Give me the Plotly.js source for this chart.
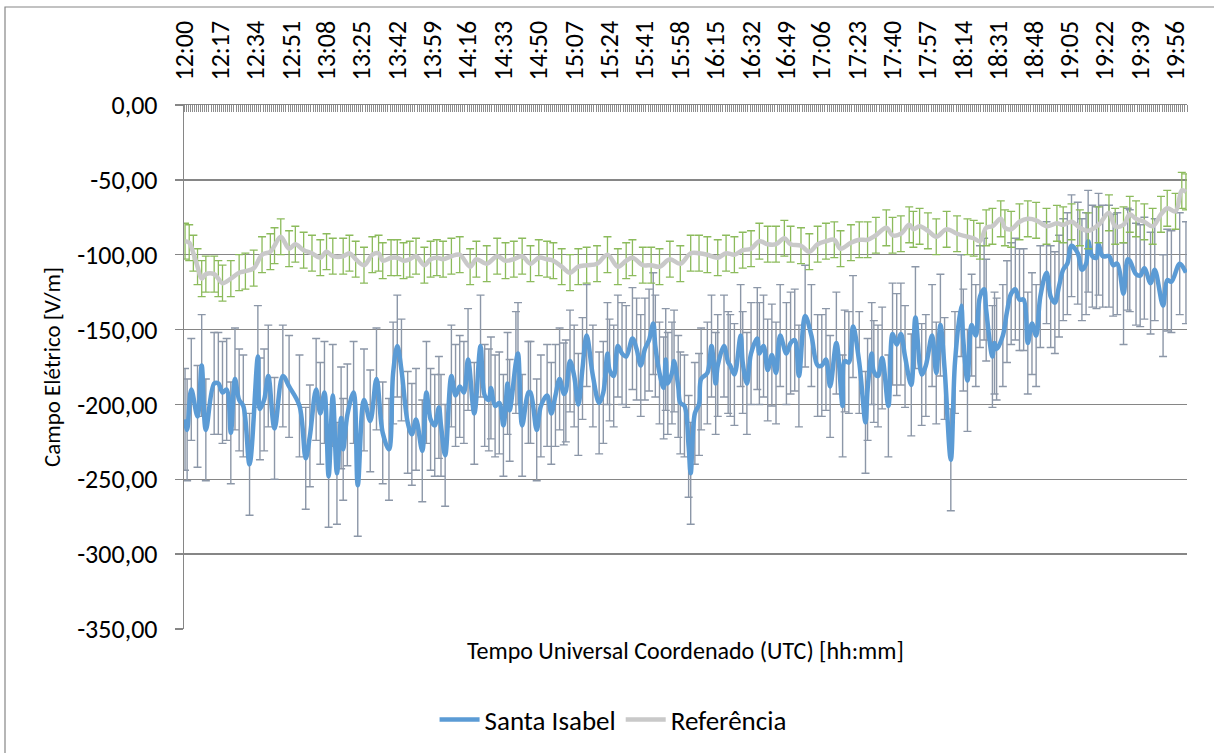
<!DOCTYPE html>
<html>
<head>
<meta charset="utf-8">
<script src="https://cdn.plot.ly/plotly-3.0.1.min.js"></script>
<style>
html, body { margin: 0; padding: 0; background: #ffffff; }
#chart { width: 1214px; height: 753px; }
</style>
</head>
<body>
<div id="chart"></div>
<script>
// ---- X axis tick labels (minutes after 12:00 and their clock labels) ----
const TICK_MIN = [0, 17, 34, 51, 68, 85, 102, 119, 136, 153, 170, 187, 204, 221, 238, 255, 272, 289, 306, 323, 340, 357, 374, 391, 408, 425, 442, 459, 476];
const TICK_LABELS = ['12:00', '12:17', '12:34', '12:51', '13:08', '13:25', '13:42', '13:59', '14:16', '14:33', '14:50', '15:07', '15:24', '15:41', '15:58', '16:15', '16:32', '16:49', '17:06', '17:23', '17:40', '17:57', '18:14', '18:31', '18:48', '19:05', '19:22', '19:39', '19:56'];

// ---- Y axis ticks ----
const Y_TICKS = [0, -50, -100, -150, -200, -250, -300, -350];
const Y_LABELS = ['0,00', '-50,00', '-100,00', '-150,00', '-200,00', '-250,00', '-300,00', '-350,00'];

// ---- Santa Isabel (minutes after 12:00, V/m) ----
const SI_MIN = [
  0, 1, 3, 6, 8, 10, 14, 16, 18, 20,
  22, 24, 26, 28, 31, 35, 36, 38, 40, 43,
  47, 50, 55, 58, 60, 63, 65, 67, 69, 71,
  73, 75, 76, 78, 81, 83, 86, 89, 92, 95,
  98, 100, 102, 104, 107, 109, 111, 114, 116, 118,
  120, 122, 123, 125, 128, 130, 132, 134, 136, 139,
  142, 144, 146, 147, 149, 151, 153, 155, 156, 159,
  160, 162, 165, 166, 169, 171, 174, 176, 178, 180,
  182, 183, 185, 187, 189, 191, 193, 196, 199, 201,
  203, 204, 206, 208, 210, 212, 215, 217, 219, 221,
  223, 225, 226, 228, 230, 231, 232, 234, 235, 237,
  238, 240, 242, 243, 245, 247, 248, 251, 253, 255,
  256, 259, 261, 262, 264, 267, 268, 270, 272, 275,
  276, 278, 280, 282, 284, 286, 289, 291, 293, 295,
  298, 301, 304, 306, 308, 310, 313, 316, 317, 319,
  321, 324, 327, 328, 330, 331, 333, 335, 338, 340,
  342, 344, 346, 349, 351, 354, 356, 359, 361, 363,
  365, 368, 370, 373, 374, 376, 378, 380, 382, 384,
  385, 388, 389, 390, 393, 395, 397, 399, 401, 403,
  405, 407, 409, 411, 414, 416, 418, 420, 422, 424,
  426, 429, 431, 433, 434, 436, 438, 439, 441, 444,
  446, 448, 451, 453, 454, 457, 459, 461, 464, 466,
  470, 472, 474, 478, 481
];
const SI_VAL = [
  -210, -217, -190, -208, -174, -217, -186, -186, -192, -190,
  -219, -183, -197, -201, -240, -168, -203, -197, -181, -216,
  -181, -188, -201, -236, -221, -190, -206, -192, -248, -194,
  -246, -209, -230, -207, -192, -254, -197, -211, -183, -219,
  -230, -179, -161, -177, -212, -220, -210, -231, -192, -210,
  -214, -202, -214, -234, -181, -194, -188, -192, -170, -206,
  -161, -194, -197, -189, -201, -199, -214, -186, -204, -172,
  -166, -214, -192, -192, -217, -201, -194, -206, -194, -183,
  -193, -191, -171, -181, -200, -176, -154, -181, -199, -192,
  -166, -177, -181, -161, -166, -168, -156, -163, -174, -163,
  -157, -146, -161, -179, -189, -170, -186, -179, -171, -188,
  -199, -201, -228, -246, -206, -200, -183, -179, -161, -186,
  -174, -161, -172, -174, -180, -154, -172, -186, -166, -156,
  -166, -161, -177, -167, -179, -154, -166, -159, -157, -181,
  -141, -154, -174, -174, -170, -188, -159, -201, -171, -172,
  -148, -172, -212, -190, -166, -178, -181, -169, -201, -153,
  -160, -153, -168, -187, -142, -180, -174, -154, -179, -147,
  -176, -237, -172, -134, -157, -184, -147, -154, -128, -123,
  -137, -168, -159, -163, -154, -138, -126, -123, -130, -130,
  -159, -146, -154, -128, -112, -128, -132, -121, -110, -106,
  -94, -99, -110, -106, -91, -101, -102, -93, -101, -101,
  -107, -106, -126, -103, -104, -113, -114, -109, -119, -110,
  -134, -117, -118, -106, -112
];
const SI_ERR = 34;

// ---- Referência (minutes after 12:00, V/m) ----
const REF_MIN = [
  0, 2, 4, 6, 8, 10, 14, 16, 18, 22,
  26, 29, 33, 37, 41, 43, 46, 50, 53, 57,
  61, 65, 68, 71, 76, 79, 82, 86, 90, 93,
  95, 99, 102, 105, 108, 111, 115, 118, 121, 124,
  128, 132, 137, 140, 145, 150, 154, 158, 162, 166,
  170, 174, 177, 181, 185, 189, 193, 198, 203, 208,
  212, 215, 220, 224, 228, 233, 238, 243, 247, 251,
  256, 260, 264, 268, 272, 276, 280, 284, 288, 291,
  296, 300, 304, 308, 312, 315, 320, 324, 328, 332,
  337, 340, 344, 348, 350, 353, 357, 361, 366, 371,
  376, 379, 382, 385, 388, 392, 394, 397, 401, 405,
  409, 414, 419, 422, 426, 430, 434, 439, 444, 447,
  451, 454, 457, 461, 465, 469, 472, 476, 479, 481
];
const REF_VAL = [
  -91, -92, -99, -108, -116, -113, -113, -116, -119, -116,
  -112, -111, -109, -100, -98, -94, -88, -96, -93, -97,
  -99, -102, -98, -101, -101, -99, -103, -107, -100, -99,
  -104, -102, -102, -104, -103, -101, -107, -103, -102, -103,
  -101, -100, -108, -103, -106, -101, -104, -103, -101, -106,
  -102, -103, -104, -108, -112, -108, -107, -106, -100, -108,
  -104, -102, -107, -107, -108, -103, -106, -99, -99, -100,
  -102, -99, -100, -97, -96, -91, -93, -93, -89, -93,
  -94, -98, -93, -91, -90, -96, -92, -90, -90, -87,
  -82, -87, -86, -80, -83, -81, -84, -88, -83, -86,
  -88, -89, -91, -82, -81, -76, -82, -83, -78, -76,
  -77, -81, -79, -80, -78, -82, -84, -80, -72, -81,
  -80, -73, -76, -78, -81, -73, -69, -71, -57, -58
];
const REF_ERR = 12;

const SERIES_NAMES = ['Santa Isabel', 'Referência'];

// ---- styling ----
const FONT = 'Carlito, Calibri, Lato, sans-serif';
const AX = '#868686';

const traces = [
  {
    x: SI_MIN, y: SI_VAL, type: 'scatter', mode: 'markers',
    marker: { size: 2, opacity: 0 },
    error_y: { type: 'constant', value: SI_ERR, color: '#8C97A8', thickness: 1.4, width: 4 },
    showlegend: false, hoverinfo: 'skip'
  },
  {
    x: SI_MIN, y: SI_VAL, type: 'scatter', mode: 'lines', name: SERIES_NAMES[0],
    line: { color: '#5B9BD5', width: 4.5, shape: 'spline', smoothing: 1 }
  },
  {
    x: REF_MIN, y: REF_VAL, type: 'scatter', mode: 'markers',
    marker: { size: 2, opacity: 0 },
    error_y: { type: 'constant', value: REF_ERR, color: '#8CBB5C', thickness: 1.3, width: 4 },
    showlegend: false, hoverinfo: 'skip'
  },
  {
    x: REF_MIN, y: REF_VAL, type: 'scatter', mode: 'lines', name: SERIES_NAMES[1],
    line: { color: '#C9C9C9', width: 4.5, shape: 'spline', smoothing: 1 }
  }
];

const L = 184, R = 1187, T = 105, B = 629;
const px2paperX = function (p) { return (p - L) / (R - L); };
const px2paperY = function (p) { return (B - p) / (B - T); };

const layout = {
  width: 1214, height: 753,
  margin: { l: L, r: 1214 - R, t: T, b: 753 - B, pad: 0 },
  paper_bgcolor: '#ffffff', plot_bgcolor: '#ffffff',
  font: { family: FONT, size: 24, color: '#000000' },
  showlegend: true,
  legend: {
    orientation: 'h', xref: 'container', yref: 'container',
    x: 0.505, xanchor: 'center', y: 1 - 720 / 753, yanchor: 'middle',
    font: { size: 27, family: FONT }, traceorder: 'normal', itemwidth: 40,
    bgcolor: 'rgba(0,0,0,0)'
  },
  xaxis: {
    side: 'top', range: [-0.5, 481.5],
    tickmode: 'array', tickvals: TICK_MIN, ticktext: TICK_LABELS,
    tickangle: -90, ticks: '', showgrid: false, zeroline: false,
    showline: true, linecolor: AX, linewidth: 1.3,
    ticklabelstandoff: 18,
    tickfont: { size: 26, family: FONT },
    minor: { tickmode: 'linear', tick0: -0.5, dtick: 1, ticks: 'inside', ticklen: 7, tickcolor: '#8c8c8c', tickwidth: 1, showgrid: false }
  },
  yaxis: {
    range: [-350, 0],
    tickmode: 'array', tickvals: Y_TICKS, ticktext: Y_LABELS,
    ticks: 'outside', ticklen: 8, tickcolor: AX, tickwidth: 1.3,
    showline: true, linecolor: AX, linewidth: 1.3,
    showgrid: true, gridcolor: AX, gridwidth: 1.3, zeroline: false,
    ticklabelstandoff: 12,
    tickfont: { size: 26, family: FONT },
    title: { text: 'Campo Elétrico [V/m]', font: { size: 23, family: FONT }, standoff: 10 }
  },
  annotations: [{
    text: 'Tempo Universal Coordenado (UTC) [hh:mm]',
    xref: 'paper', yref: 'paper', x: 0.5, y: px2paperY(650), yanchor: 'middle', xanchor: 'center',
    showarrow: false, font: { size: 24, family: FONT, color: '#000000' }
  }],
  shapes: [{
    type: 'rect', xref: 'paper', yref: 'paper',
    x0: px2paperX(5), x1: px2paperX(1230), y0: px2paperY(770), y1: px2paperY(7),
    line: { color: AX, width: 1.2 }, fillcolor: 'rgba(0,0,0,0)', layer: 'below'
  }]
};

Plotly.newPlot('chart', traces, layout, { displayModeBar: false, staticPlot: true });
</script>
</body>
</html>
